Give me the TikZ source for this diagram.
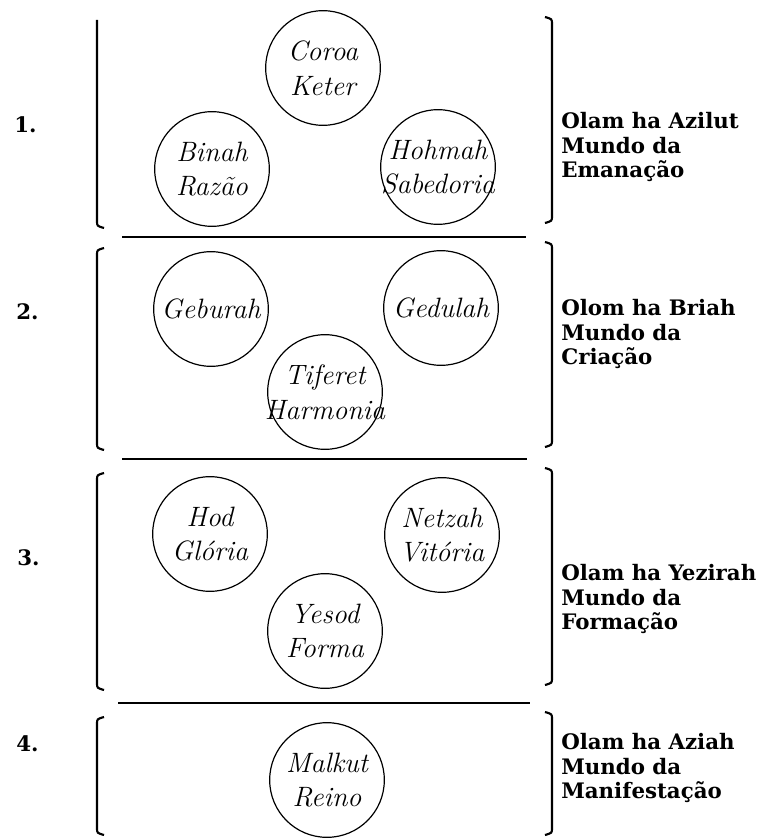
\documentclass[tikz,border=0pt]{standalone}
\usepackage{fontspec}
\usepackage{tikz}
\newfontfamily\slabfont{DejaVu Serif}

\begin{document}
\begin{tikzpicture}[x=0.75pt,y=0.75pt,yscale=-1,xscale=1,
  sefira/.style={circle,draw,line width=0.9pt,minimum size=86pt,inner sep=0pt},
  sname/.style={font=\fontsize{21}{26}\selectfont\itshape,align=center,inner sep=0.75pt},
  world/.style={font=\fontsize{16}{18.5}\selectfont\slabfont\bfseries,align=left,anchor=west,inner sep=0.75pt},
  num/.style={font=\fontsize{16}{18}\selectfont\slabfont\bfseries,anchor=west,inner sep=0.75pt},
  brk/.style={line width=1.6pt},
  sep/.style={line width=1.6pt}]
\useasboundingbox (0,0) rectangle (769,838);

%Shape: Circle [id:keter]
\node [sefira] (keter) at (323,68) {};
%Shape: Circle [id:binah]
\node [sefira] (binah) at (212,169) {};
%Shape: Circle [id:hohmah]
\node [sefira] (hohmah) at (438,167) {};
%Shape: Circle [id:geburah]
\node [sefira] (geburah) at (211,309) {};
%Shape: Circle [id:gedulah]
\node [sefira] (gedulah) at (441,308) {};
%Shape: Circle [id:tiferet]
\node [sefira] (tiferet) at (325,392) {};
%Shape: Circle [id:hod]
\node [sefira] (hod) at (210,534) {};
%Shape: Circle [id:netzah]
\node [sefira] (netzah) at (442,535) {};
%Shape: Circle [id:yesod]
\node [sefira] (yesod) at (325,631) {};
%Shape: Circle [id:malkut]
\node [sefira] (malkut) at (327,780) {};

%Shape: Left brackets
\draw [brk] (97,20) -- (97,221) .. controls (97,226) .. (104,228) ;
\draw [brk] (104,248) .. controls (97,250) .. (97,255) -- (97,443) .. controls (97,448) .. (104,450) ;
\draw [brk] (104,473) .. controls (97,475) .. (97,480) -- (97,683) .. controls (97,688) .. (104,690) ;
\draw [brk] (104,717) .. controls (97,719) .. (97,724) -- (97,828) .. controls (97,833) .. (104,835) ;
%Shape: Right brackets
\draw [brk] (545,17) .. controls (552,19) .. (552,24) -- (552,216) .. controls (552,221) .. (545,223) ;
\draw [brk] (545,242) .. controls (552,244) .. (552,249) -- (552,440) .. controls (552,445) .. (545,447) ;
\draw [brk] (545,468) .. controls (552,470) .. (552,475) -- (552,678) .. controls (552,683) .. (545,685) ;
\draw [brk] (545,712) .. controls (552,714) .. (552,719) -- (552,828) .. controls (552,833) .. (545,835) ;

%Straight Lines [id:sep1]
\draw [sep] (122,237) -- (526,237) ;
%Straight Lines [id:sep2]
\draw [sep] (122,459) -- (527,459) ;
%Straight Lines [id:sep3]
\draw [sep] (118,703) -- (530,703) ;

% Text Node
\node [sname] (keterT) at (keter) {Coroa\\Keter};
% Text Node
\node [sname] (binahT) at (binah) {Binah\\Razão};
% Text Node
\node [sname] (hohmahT) at (hohmah) {Hohmah\\Sabedoria};
% Text Node
\node [sname] (geburahT) at (geburah) {Geburah};
% Text Node
\node [sname] (gedulahT) at (gedulah) {Gedulah};
% Text Node
\node [sname] (tiferetT) at (tiferet) {Tiferet\\Harmonia};
% Text Node
\node [sname] (hodT) at (hod) {Hod\\Glória};
% Text Node
\node [sname] (netzahT) at (netzah) {Netzah\\Vitória};
% Text Node
\node [sname] (yesodT) at (yesod) {Yesod\\Forma};
% Text Node
\node [sname] (malkutT) at (malkut) {Malkut\\Reino};

% Text Node
\node [num] (n1) at (13,125) {1.};
% Text Node
\node [num] (n2) at (15,312) {2.};
% Text Node
\node [num] (n3) at (16,558) {3.};
% Text Node
\node [num] (n4) at (15,744) {4.};

% Text Node
\node [world] (azilut) at (560,147) {Olam ha Azilut\\Mundo da\\Emanação};
% Text Node
\node [world] (briah) at (560,334) {Olom ha Briah\\Mundo da\\Criação};
% Text Node
\node [world] (yezirah) at (560,599) {Olam ha Yezirah\\Mundo da\\Formação};
% Text Node
\node [world] (aziah) at (560,768) {Olam ha Aziah\\Mundo da\\Manifestação};

\end{tikzpicture}
\end{document}
